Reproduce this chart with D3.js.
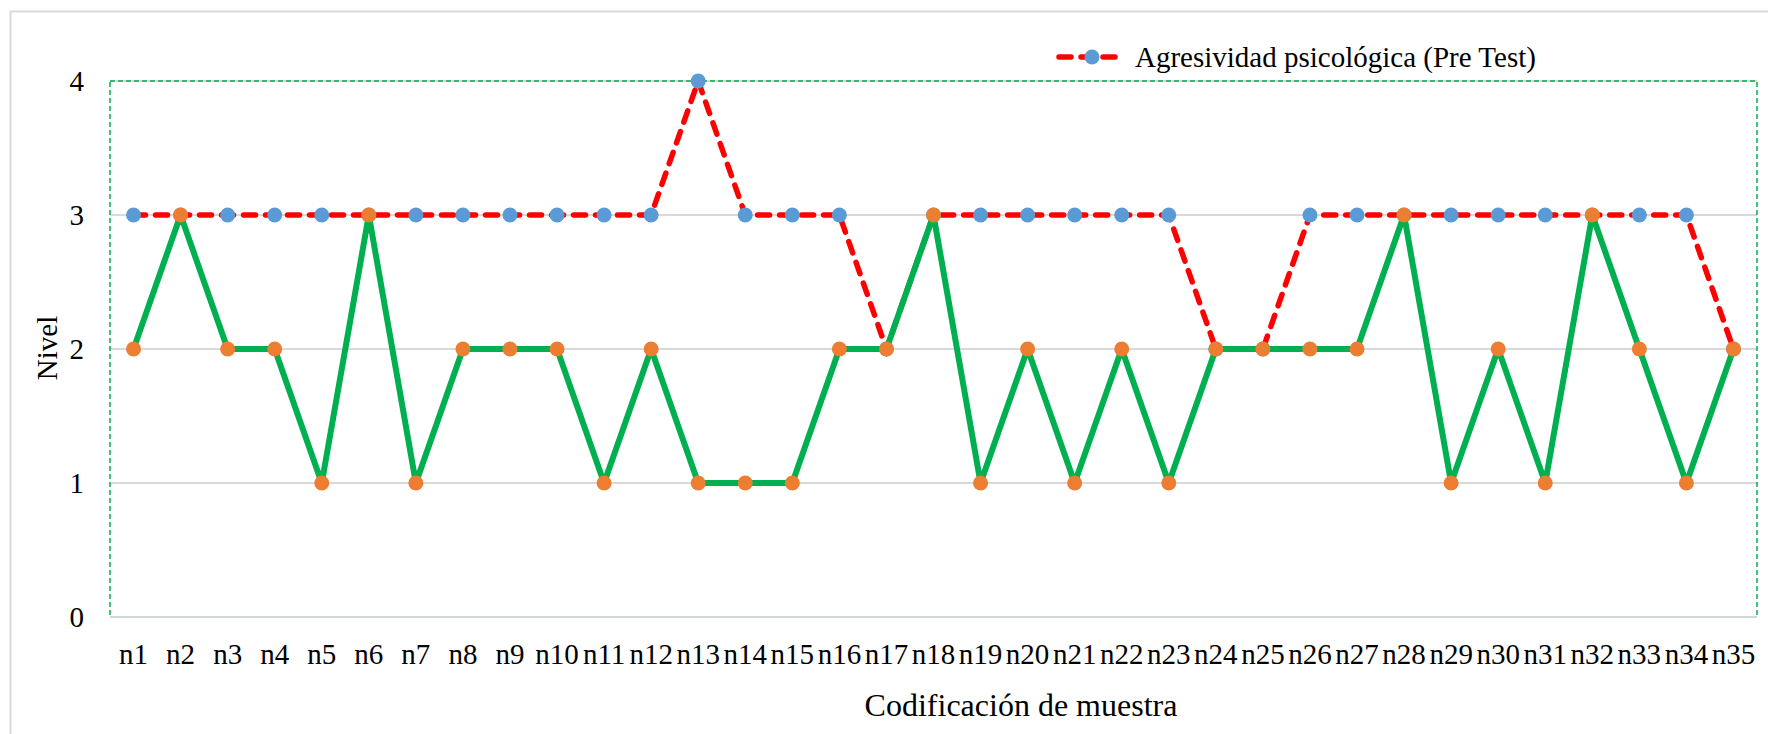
<!DOCTYPE html>
<html><head><meta charset="utf-8">
<script src="https://cdn.jsdelivr.net/npm/d3@7"></script>
<style>body{margin:0;background:#fff}svg{display:block}</style>
</head><body><svg id="c" width="1768" height="734"></svg>
<script>
const categories = Array.from({length:35},(_,i)=>"n"+(i+1));
const preTest  = [3,3,3,3,3,3,3,3,3,3,3,3,4,3,3,3,2,3,3,3,3,3,3,2,2,3,3,3,3,3,3,3,3,3,2];
const postTest = [2,3,2,2,1,3,1,2,2,2,1,2,1,1,1,2,2,3,1,2,1,2,1,2,2,2,2,3,1,2,1,3,2,1,2];
const yTicks = [0,1,2,3,4];
const preName = "Agresividad psicológica (Pre Test)";
const xTitle = "Codificación de muestra";
const yTitle = "Nivel";

const FONT = "'Liberation Serif', 'Times New Roman', Times, 'DejaVu Serif', serif";
const svg = d3.select("#c").attr("font-family", FONT);
const L=110, R=1757, T=81, B=617;
const x = d3.scaleBand().domain(categories).range([L,R]);
const y = d3.scaleLinear().domain([0,4]).range([B,T]);
const cx = d => x(d)+x.bandwidth()/2;

// chart border
svg.append("rect").attr("x",10.5).attr("y",11.5).attr("width",1800).attr("height",800)
  .attr("fill","none").attr("stroke","#d9d9d9").attr("stroke-width",2);

// gridlines
svg.append("g").selectAll("line").data(yTicks).join("line")
  .attr("x1",L).attr("x2",R).attr("y1",d=>y(d)).attr("y2",d=>y(d))
  .attr("stroke","#d9d9d9").attr("stroke-width",2);

// plot area dashed border
svg.append("rect").attr("x",L).attr("y",T).attr("width",R-L).attr("height",B-T)
  .attr("fill","none").attr("stroke","#00b050").attr("stroke-width",1.5).attr("stroke-dasharray","5,3");
svg.append("line").attr("x1",L).attr("x2",R).attr("y1",B).attr("y2",B)
  .attr("stroke","#d0d6d6").attr("stroke-width",2);

// y tick labels
svg.append("g").selectAll("text").data(yTicks).join("text")
  .attr("font-family",FONT).attr("font-size",29).attr("fill","#000")
  .attr("x",84).attr("y",d=>y(d)+10).attr("text-anchor","end").text(d=>d);

// x tick labels
svg.append("g").selectAll("text").data(categories).join("text")
  .attr("font-family",FONT).attr("font-size",29).attr("fill","#000")
  .attr("x",d=>cx(d)).attr("y",664).attr("text-anchor","middle").text(d=>d);

// titles
svg.append("text").attr("font-family",FONT).attr("font-size",32).attr("fill","#000")
  .attr("x",1021).attr("y",716).attr("text-anchor","middle").text(xTitle);
svg.append("text").attr("font-family",FONT).attr("font-size",29).attr("fill","#000")
  .attr("transform","translate(57,348) rotate(-90)").attr("text-anchor","middle").text(yTitle);

const line = d3.line().x((d,i)=>cx(categories[i])).y(d=>y(d));

// pre test
svg.append("path").datum(preTest).attr("d",line).attr("fill","none")
  .attr("stroke","#ff0000").attr("stroke-width",5.5).attr("stroke-linecap","round")
  .attr("stroke-dasharray","12,10");
svg.append("g").selectAll("circle").data(preTest).join("circle")
  .attr("cx",(d,i)=>cx(categories[i])).attr("cy",d=>y(d)).attr("r",7.5).attr("fill","#5b9bd5");

// post test
svg.append("path").datum(postTest).attr("d",line).attr("fill","none")
  .attr("stroke","#00b050").attr("stroke-width",6).attr("stroke-linejoin","round");
svg.append("g").selectAll("circle").data(postTest).join("circle")
  .attr("cx",(d,i)=>cx(categories[i])).attr("cy",d=>y(d)).attr("r",7.5).attr("fill","#ed7d31");

// legend
const lg = svg.append("g");
lg.append("line").attr("x1",1059).attr("x2",1121).attr("y1",57).attr("y2",57)
  .attr("stroke","#ff0000").attr("stroke-width",5.5).attr("stroke-linecap","round").attr("stroke-dasharray","12,10");
lg.append("circle").attr("cx",1092).attr("cy",57).attr("r",7.5).attr("fill","#5b9bd5");
lg.append("text").attr("font-family",FONT).attr("font-size",29).attr("fill","#000")
  .attr("x",1135).attr("y",67).text(preName);
</script></body></html>
